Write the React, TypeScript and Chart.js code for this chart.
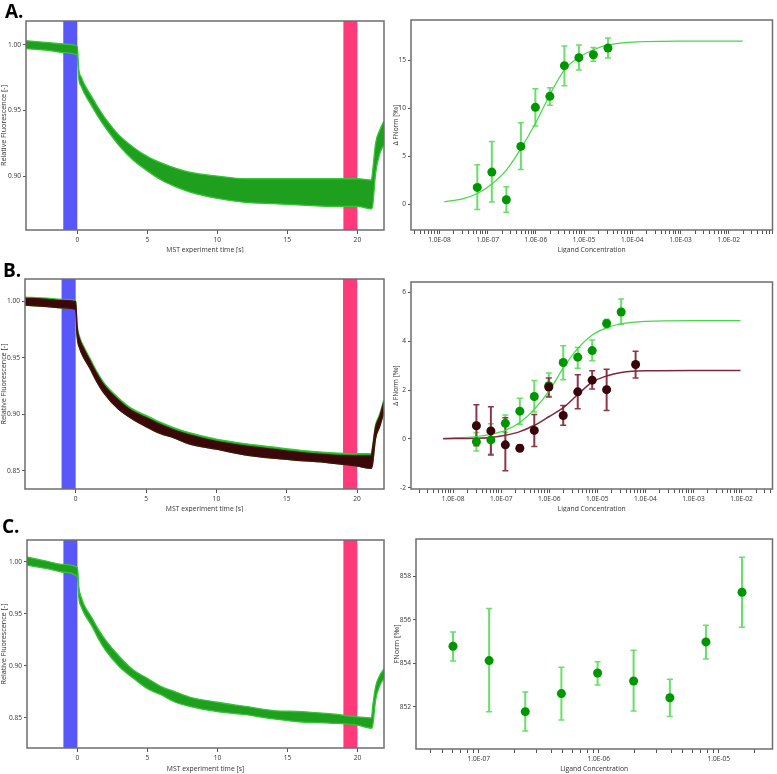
import React, { useEffect, useRef } from "react";
import { Chart, registerables } from "chart.js";
Chart.register(...registerables);

// ---------- time traces (MST) ----------
const timeS = [-3.7, -2, -1, 0, 0.1, 0.3, 0.5, 1, 1.5, 2, 3, 4, 5, 6, 7, 8, 10, 12, 14, 16, 18, 20, 21, 21.1, 21.3, 21.6, 21.9];
const aTraceUpper = [1.003, 1.0015, 1.0005, 0.999, 0.982, 0.975, 0.970, 0.961, 0.952, 0.944, 0.931, 0.922, 0.915, 0.910, 0.906, 0.903, 0.900, 0.898, 0.898, 0.898, 0.898, 0.898, 0.897, 0.905, 0.925, 0.935, 0.942];
const aTraceLower = [0.997, 0.9955, 0.994, 0.992, 0.975, 0.968, 0.963, 0.954, 0.945, 0.937, 0.923, 0.912, 0.904, 0.897, 0.892, 0.888, 0.883, 0.880, 0.879, 0.878, 0.877, 0.877, 0.875, 0.878, 0.902, 0.917, 0.924];
const bTraceUpperGreen = [1.004, 1.003, 1.002, 1.001, 0.980, 0.968, 0.962, 0.950, 0.938, 0.928, 0.915, 0.905, 0.899, 0.893, 0.888, 0.884, 0.878, 0.874, 0.871, 0.868, 0.866, 0.865, 0.865, 0.872, 0.890, 0.900, 0.913];
const bTraceUpper = [1.003, 1.002, 1.001, 1.0, 0.978, 0.966, 0.960, 0.948, 0.936, 0.926, 0.913, 0.903, 0.897, 0.891, 0.886, 0.882, 0.876, 0.872, 0.869, 0.866, 0.864, 0.863, 0.863, 0.870, 0.888, 0.898, 0.911];
const bTraceLower = [0.997, 0.9955, 0.9945, 0.993, 0.970, 0.958, 0.952, 0.941, 0.929, 0.919, 0.905, 0.896, 0.889, 0.883, 0.879, 0.874, 0.869, 0.864, 0.861, 0.859, 0.857, 0.854, 0.852, 0.856, 0.878, 0.889, 0.902];
const cTraceUpper = [1.005, 1.0, 0.9975, 0.9945, 0.976, 0.965, 0.958, 0.947, 0.935, 0.925, 0.909, 0.896, 0.888, 0.880, 0.875, 0.870, 0.865, 0.861, 0.857, 0.856, 0.854, 0.851, 0.850, 0.862, 0.880, 0.891, 0.897];
const cTraceLower = [0.997, 0.993, 0.990, 0.9856, 0.966, 0.956, 0.950, 0.939, 0.926, 0.915, 0.899, 0.888, 0.878, 0.872, 0.865, 0.861, 0.856, 0.853, 0.849, 0.846, 0.845, 0.843, 0.840, 0.843, 0.867, 0.881, 0.888];
const blueRegion = [-1, 0];
const redRegion = [19, 20];
const timeTicks = [0, 5, 10, 15, 20];
const aFluorTicks = [0.9, 0.95, 1.0];
const fluorTicks = [0.85, 0.9, 0.95, 1.0];

// ---------- dose response A ----------
const aConc = [6.1e-8, 1.22e-7, 2.44e-7, 4.88e-7, 9.77e-7, 1.95e-6, 3.91e-6, 7.81e-6, 1.56e-5, 3.13e-5];
const aDelta = [1.74, 3.34, 0.45, 6.02, 10.09, 11.24, 14.44, 15.27, 15.58, 16.28];
const aHi = [4.1, 6.54, 1.81, 8.49, 12.04, 12.14, 16.49, 16.6, 16.32, 17.33];
const aLo = [-0.55, 0.21, -0.84, 3.62, 8.14, 10.3, 12.35, 13.99, 14.9, 15.24];
const aFitConc = [1.26e-8, 3e-8, 6.1e-8, 1.22e-7, 2.44e-7, 4.88e-7, 9.77e-7, 1.95e-6, 3.91e-6, 7.81e-6, 1.56e-5, 3.13e-5, 1e-4, 1e-3, 1.95e-2];
const aFit = [0.24, 0.55, 1.1, 2.1, 3.55, 5.8, 8.4, 11.4, 14.0, 15.3, 16.1, 16.6, 16.9, 17.0, 17.0];
const aYTicks = [0, 5, 10, 15];

// ---------- dose response B ----------
const bGreenConc = [3.05e-8, 6.1e-8, 1.22e-7, 2.44e-7, 4.88e-7, 9.77e-7, 1.95e-6, 3.91e-6, 7.81e-6, 1.56e-5, 3.13e-5];
const bGreen = [-0.11, -0.04, 0.64, 1.14, 1.74, 2.18, 3.13, 3.35, 3.62, 4.73, 5.2];
const bGreenHi = [0.26, 0.62, 0.98, 1.67, 2.39, 2.7, 3.82, 3.75, 4.05, 4.9, 5.73];
const bGreenLo = [-0.49, -0.62, 0.26, 0.6, 1.1, 1.75, 2.43, 2.9, 3.2, 4.55, 4.7];
const bDarkConc = [3.05e-8, 6.1e-8, 1.22e-7, 2.44e-7, 4.88e-7, 9.77e-7, 1.95e-6, 3.91e-6, 7.81e-6, 1.56e-5, 6.25e-5];
const bDark = [0.54, 0.33, -0.24, -0.38, 0.35, 2.13, 0.96, 1.93, 2.41, 2.02, 3.05];
const bDarkHi = [1.4, 1.32, 0.87, -0.25, 1.0, 2.5, 1.37, 2.63, 2.79, 2.86, 3.59];
const bDarkLo = [-0.28, -0.66, -1.3, -0.48, -0.31, 1.72, 0.56, 1.24, 2.05, 1.17, 2.5];
const bFitConc = [6.2e-9, 3.05e-8, 6.1e-8, 1.22e-7, 2.44e-7, 4.88e-7, 9.77e-7, 1.95e-6, 3.91e-6, 7.81e-6, 1.56e-5, 3.13e-5, 1e-4, 1e-3, 9.5e-3];
const bGreenFit = [0.02, 0.1, 0.19, 0.35, 0.67, 1.21, 1.95, 2.9, 3.71, 4.26, 4.55, 4.72, 4.82, 4.85, 4.85];
const bDarkFit = [0.01, 0.03, 0.06, 0.15, 0.3, 0.56, 0.91, 1.28, 1.82, 2.33, 2.58, 2.72, 2.79, 2.8, 2.8];
const bYTicks = [-2, 0, 2, 4, 6];

// ---------- FNorm C ----------
const cConc = [6.1e-8, 1.22e-7, 2.44e-7, 4.88e-7, 9.77e-7, 1.95e-6, 3.91e-6, 7.81e-6, 1.56e-5];
const cFnorm = [854.78, 854.12, 851.77, 852.6, 853.55, 853.18, 852.41, 854.98, 857.27];
const cHi = [855.44, 856.52, 852.68, 853.81, 854.07, 854.6, 853.26, 855.75, 858.88];
const cLo = [854.1, 851.76, 850.88, 851.39, 853.0, 851.8, 851.55, 854.2, 855.66];
const cYTicks = [852, 854, 856, 858];

// ---------- styling ----------
const FONT = "'Open Sans', 'Noto Sans', 'DejaVu Sans', sans-serif";
const tickFont = { family: FONT, size: 6.6, lineHeight: 1 };
const xTitleFont = { family: FONT, size: 6.8, lineHeight: 1 };
const TXT = "#333";
const GREEN_PT = "rgb(0,150,0)";
const GREEN_ERR = "rgb(105,222,105)";
const GREEN_FIT = "rgb(70,215,70)";
const DARK_PT = "rgb(55,5,10)";
const DARK_ERR = "rgb(140,55,72)";
const DARK_FIT = "rgb(125,40,58)";

type Geo = { left: number; top: number; width: number; height: number; padL: number; padT: number; padR: number; yW: number; xH: number; tpb?: number; ytf: number };

const framePlugin = {
  id: "frame",
  afterDatasetsDraw(chart: any) {
    const { ctx, chartArea: a } = chart;
    ctx.save();
    ctx.strokeStyle = "#6e6e6e";
    ctx.lineWidth = 1.5;
    ctx.strokeRect(a.left, a.top, a.right - a.left, a.bottom - a.top);
    ctx.restore();
  },
};

function bandsPlugin(bands: { range: number[]; color: string }[]) {
  return {
    id: "bands",
    beforeDatasetsDraw(chart: any) {
      const { ctx, chartArea: a, scales } = chart;
      ctx.save();
      for (const b of bands) {
        const x0 = scales.x.getPixelForValue(b.range[0]);
        const x1 = scales.x.getPixelForValue(b.range[1]);
        ctx.fillStyle = b.color;
        ctx.fillRect(x0, a.top, x1 - x0, a.bottom - a.top);
      }
      ctx.restore();
    },
  };
}

function errorPlugin(sets: { x: number[]; lo: number[]; hi: number[]; color: string }[]) {
  return {
    id: "errbars",
    beforeDatasetsDraw(chart: any) {
      const { ctx, scales } = chart;
      ctx.save();
      for (const s of sets) {
        ctx.strokeStyle = s.color;
        s.x.forEach((xv, i) => {
          const px = scales.x.getPixelForValue(xv);
          const y0 = scales.y.getPixelForValue(s.lo[i]);
          const y1 = scales.y.getPixelForValue(s.hi[i]);
          ctx.lineWidth = 2;
          ctx.beginPath();
          ctx.moveTo(px, y0);
          ctx.lineTo(px, y1);
          ctx.stroke();
          ctx.lineWidth = 1.5;
          ctx.beginPath();
          ctx.moveTo(px - 3, y0);
          ctx.lineTo(px + 3, y0);
          ctx.moveTo(px - 3, y1);
          ctx.lineTo(px + 3, y1);
          ctx.stroke();
        });
      }
      ctx.restore();
    },
  };
}

function yAxis(min: number, max: number, ticks: number[], dec: number, title: string, g: Geo) {
  return {
    type: "linear",
    min,
    max,
    afterBuildTicks: (s: any) => {
      s.ticks = ticks.filter((v) => v >= min && v <= max).map((v) => ({ value: v }));
    },
    afterFit: (s: any) => {
      s.width = g.yW;
    },
    ticks: { font: tickFont, color: TXT, padding: 2, autoSkip: false, callback: (v: any) => Number(v).toFixed(dec) },
    grid: { drawOnChartArea: false, drawTicks: true, tickLength: 3, color: "#555" },
    border: { display: false },
    title: { display: true, text: title, font: { family: FONT, size: g.ytf, lineHeight: 1 }, color: TXT, padding: { top: 0, bottom: 0 } },
  };
}

function timeAxis(min: number, max: number, g: Geo) {
  return {
    type: "linear",
    min,
    max,
    afterBuildTicks: (s: any) => {
      s.ticks = timeTicks.map((v) => ({ value: v }));
    },
    afterFit: (s: any) => {
      s.height = g.xH;
    },
    ticks: { font: tickFont, color: TXT, padding: 3, maxRotation: 0, autoSkip: false, callback: (v: any) => String(v) },
    grid: { drawOnChartArea: false, drawTicks: true, tickLength: 4, color: "#555" },
    border: { display: false },
    title: { display: true, text: "MST experiment time [s]", font: xTitleFont, color: TXT, padding: { top: 0, bottom: g.tpb ?? 0 } },
  };
}

function fmtDecade(v: number) {
  const l = Math.log10(v);
  const e = Math.round(l);
  if (Math.abs(l - e) > 1e-6) return "";
  return "1.0E" + (e < 0 ? "-" : "+") + String(Math.abs(e)).padStart(2, "0");
}

function logAxis(min: number, max: number, g: Geo) {
  const vals: number[] = [];
  for (let e = Math.floor(Math.log10(min)); e <= Math.ceil(Math.log10(max)); e++) {
    for (let k = 1; k < 10; k++) {
      const v = k * Math.pow(10, e);
      if (v >= min && v <= max) vals.push(v);
    }
  }
  return {
    type: "logarithmic",
    min,
    max,
    afterBuildTicks: (s: any) => {
      s.ticks = vals.map((v) => ({ value: v }));
    },
    afterFit: (s: any) => {
      s.height = g.xH;
    },
    ticks: { font: tickFont, color: TXT, padding: 3, maxRotation: 0, autoSkip: false, callback: (v: any) => fmtDecade(Number(v)) },
    grid: { drawOnChartArea: false, drawTicks: true, tickLength: 4, color: "#555" },
    border: { display: false },
    title: { display: true, text: "Ligand Concentration", font: xTitleFont, color: TXT, padding: { top: 0, bottom: g.tpb ?? 0 } },
  };
}

function baseOptions(g: Geo, x: any, y: any) {
  return {
    responsive: false,
    animation: false,
    events: [],
    layout: { padding: { left: g.padL, top: g.padT, right: g.padR, bottom: 0 } },
    plugins: { legend: { display: false }, tooltip: { enabled: false } },
    scales: { x, y },
  };
}

const xy = (xs: number[], ys: number[]) => xs.map((x, i) => ({ x, y: ys[i] }));

function bandSet(upper: number[], lower: number[], fill: string, border: string) {
  const common = { pointRadius: 0, borderWidth: 1.3, borderColor: border, cubicInterpolationMode: "monotone", tension: 0.4 };
  return [
    { ...common, data: xy(timeS, upper), fill: false },
    { ...common, data: xy(timeS, lower), fill: "-1", backgroundColor: fill },
  ];
}

function traceConfig(g: Geo, xMin: number, xMax: number, yMin: number, yMax: number, yTicks: number[], datasets: any[]) {
  return {
    type: "line",
    data: { datasets },
    options: baseOptions(g, timeAxis(xMin, xMax, g), yAxis(yMin, yMax, yTicks, 2, "Relative Fluorescence [-]", g)),
    plugins: [
      bandsPlugin([
        { range: blueRegion, color: "rgb(88,88,250)" },
        { range: redRegion, color: "rgb(255,58,122)" },
      ]),
      framePlugin,
    ],
  };
}

const pointSet = (xs: number[], ys: number[], color: string) => ({
  data: xy(xs, ys),
  showLine: false,
  pointRadius: 4.5,
  pointBorderWidth: 0,
  pointBackgroundColor: color,
  borderColor: color,
});
const fitSet = (xs: number[], ys: number[], color: string, w = 1.2) => ({
  data: xy(xs, ys),
  pointRadius: 0,
  borderWidth: w,
  borderColor: color,
  cubicInterpolationMode: "monotone",
  tension: 0.4,
  fill: false,
});

const G: Record<string, Geo> = {
  aL: { left: 0, top: 0, width: 390, height: 253, padL: 0, padT: 21, padR: 6, yW: 26, xH: 23, ytf: 7.2 },
  aR: { left: 390, top: 0, width: 387, height: 253, padL: 3, padT: 20, padR: 1, yW: 18, xH: 23, ytf: 6.6 },
  bL: { left: 0, top: 258, width: 390, height: 254, padL: 0, padT: 21, padR: 6, yW: 25, xH: 23, ytf: 7.2 },
  bR: { left: 390, top: 258, width: 387, height: 254, padL: 3, padT: 24, padR: 1, yW: 18, xH: 23, ytf: 6.6 },
  cL: { left: 0, top: 512, width: 390, height: 262, padL: 0, padT: 28, padR: 6, yW: 27, xH: 26, tpb: 2, ytf: 7.2 },
  cR: { left: 390, top: 512, width: 387, height: 262, padL: 3, padT: 27, padR: 1, yW: 23, xH: 25, tpb: 1.5, ytf: 7.4 },
};

const TRACE_GREEN = "rgb(30,160,30)";
const TRACE_GREEN_EDGE = "rgb(55,195,55)";

const makers: Record<string, () => any> = {
  aL: () => traceConfig(G.aL, -3.66, 21.9, 0.859, 1.018, aFluorTicks, bandSet(aTraceUpper, aTraceLower, TRACE_GREEN, TRACE_GREEN_EDGE)),
  bL: () =>
    traceConfig(G.bL, -3.6, 21.91, 0.8337, 1.02, fluorTicks, [
      ...bandSet(bTraceUpper, bTraceLower, "rgb(58,8,8)", "rgb(75,14,14)"),
      ...bandSet(bTraceUpperGreen, bTraceLower, "rgb(30,170,30)", "rgb(50,200,50)"),
    ]),
  cL: () => traceConfig(G.cL, -3.6, 21.9, 0.821, 1.021, fluorTicks, bandSet(cTraceUpper, cTraceLower, TRACE_GREEN, TRACE_GREEN_EDGE)),
  aR: () => ({
    type: "line",
    data: { datasets: [pointSet(aConc, aDelta, GREEN_PT), fitSet(aFitConc, aFit, GREEN_FIT)] },
    options: baseOptions(G.aR, logAxis(2.57e-9, 8.1e-2, G.aR), yAxis(-2.7, 19.2, aYTicks, 0, "Δ FNorm [‰]", G.aR)),
    plugins: [errorPlugin([{ x: aConc, lo: aLo, hi: aHi, color: GREEN_ERR }]), framePlugin],
  }),
  bR: () => ({
    type: "line",
    data: {
      datasets: [
        pointSet(bDarkConc, bDark, DARK_PT),
        pointSet(bGreenConc, bGreen, GREEN_PT),
        fitSet(bFitConc, bDarkFit, DARK_FIT, 1.5),
        fitSet(bFitConc, bGreenFit, GREEN_FIT),
      ],
    },
    options: baseOptions(G.bR, logAxis(1.33e-9, 4.4e-2, G.bR), yAxis(-2.05, 6.43, bYTicks, 0, "Δ FNorm [‰]", G.bR)),
    plugins: [
      errorPlugin([
        { x: bGreenConc, lo: bGreenLo, hi: bGreenHi, color: GREEN_ERR },
        { x: bDarkConc, lo: bDarkLo, hi: bDarkHi, color: DARK_ERR },
      ]),
      framePlugin,
    ],
  }),
  cR: () => ({
    type: "line",
    data: { datasets: [pointSet(cConc, cFnorm, GREEN_PT)] },
    options: baseOptions(G.cR, logAxis(3.24e-8, 2.8e-5, G.cR), yAxis(850.05, 859.72, cYTicks, 0, "FNorm [‰]", G.cR)),
    plugins: [errorPlugin([{ x: cConc, lo: cLo, hi: cHi, color: GREEN_ERR }]), framePlugin],
  }),
};

function Panel({ id }: { id: string }) {
  const ref = useRef<HTMLCanvasElement>(null);
  const g = G[id];
  useEffect(() => {
    const chart = new Chart(ref.current as HTMLCanvasElement, makers[id]());
    return () => chart.destroy();
  }, [id]);
  return (
    <canvas
      ref={ref}
      width={g.width}
      height={g.height}
      style={{ position: "absolute", left: g.left, top: g.top, width: g.width, height: g.height }}
    />
  );
}

const letterStyle = (left: number, top: number): React.CSSProperties => ({
  position: "absolute",
  left,
  top,
  fontFamily: FONT,
  fontWeight: 700,
  fontSize: 19,
  lineHeight: 1,
  color: "#000",
  zIndex: 2,
});

export default function App() {
  return (
    <div style={{ position: "fixed", left: 0, top: 0, width: 777, height: 774, background: "#fff", overflow: "hidden" }}>
      <Panel id="aL" />
      <Panel id="aR" />
      <Panel id="bL" />
      <Panel id="bR" />
      <Panel id="cL" />
      <Panel id="cR" />
      <div style={letterStyle(5, 2)}>A.</div>
      <div style={letterStyle(3, 261)}>B.</div>
      <div style={letterStyle(2, 517)}>C.</div>
    </div>
  );
}
